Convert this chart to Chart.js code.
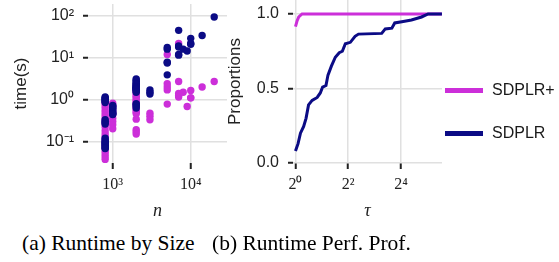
<!DOCTYPE html>
<html>
<head>
<meta charset="utf-8">
<script src="https://cdn.jsdelivr.net/npm/chart.js@4.4.1/dist/chart.umd.min.js"></script>
<style>
  body { margin: 0; width: 559px; height: 262px; background: #fff; position: relative; overflow: hidden; }
  canvas { position: absolute; top: 0; }
  .key { position: absolute; left: 445px; width: 38px; height: 5px; }
  .keytxt { position: absolute; left: 492px; font: 16px "Liberation Sans", Arial, sans-serif; color: #1a1a1a; line-height: 20px; }
  .cap { position: absolute; top: 232px; font: 21.5px "Liberation Serif", "Times New Roman", serif; color: #000; line-height: 22px; white-space: nowrap; }
</style>
</head>
<body>
<canvas id="sizeChart" width="232" height="222" style="left:0px"></canvas>
<canvas id="profChart" width="349" height="222" style="left:210px"></canvas>

<div class="key" style="top:88px;background:#cc2fd9"></div>
<div class="keytxt" style="top:80px">SDPLR+</div>
<div class="key" style="top:131px;background:#0b0b85"></div>
<div class="keytxt" style="top:123px">SDPLR</div>

<div class="cap" style="left:22px">(a) Runtime by Size</div>
<div class="cap" style="left:212px">(b) Runtime Perf. Prof.</div>

<script>
// ---- data ----------------------------------------------------------
// problem sizes n (Gset graphs), runtimes in seconds grouped by size
const sizes = [800, 1000, 2000, 3000, 5000, 7000, 8000, 9000, 10000, 14000, 20000];

const sdplrTimes = [
  [1.15, 1.1, 1.05, 1.0, 0.95, 0.9, 0.85, 0.33, 0.3, 0.28, 0.26, 0.12, 0.11, 0.1, 0.095, 0.09, 0.085, 0.08, 0.075, 0.07, 0.068],
  [0.72, 0.68, 0.64, 0.6, 0.55, 0.5, 0.47, 0.45, 0.44],
  [3.1, 2.9, 2.7, 2.5, 2.4, 2.3, 2.2, 2.1, 2.0, 1.95, 1.9, 1.85, 1.8, 1.75, 1.7, 1.6, 1.5, 0.8, 0.75, 0.7, 0.63],
  [1.7, 1.5, 1.35],
  [17.5, 16, 7.8, 7.5, 3.9],
  [45, 19, 18, 12, 11.5],
  [16],
  [14.5],
  [29, 21, 22],
  [34],
  [94]
];

const sdplrPlusTimes = [
  [0.85, 0.75, 0.65, 0.55, 0.48, 0.42, 0.36, 0.31, 0.26, 0.22, 0.18, 0.15, 0.13, 0.11, 0.095, 0.08, 0.068, 0.058, 0.05, 0.043, 0.037],
  [0.82, 0.72, 0.62, 0.52, 0.44, 0.36, 0.3, 0.25, 0.2],
  [2.0, 1.8, 1.6, 1.45, 1.3, 1.2, 1.1, 1.0, 0.92, 0.85, 0.78, 0.72, 0.66, 0.6, 0.55, 0.5, 0.46, 0.34, 0.19, 0.17, 0.15],
  [0.47, 0.4, 0.33],
  [12, 2.4, 2.0, 1.7, 0.78],
  [22, 2.7, 1.4, 1.25, 1.15],
  [1.5],
  [0.68],
  [1.65, 1.1, 1.1],
  [2.0],
  [2.7]
];

// performance profile (tau, proportion)
const sdplrTau  = [1.0, 1.07, 1.14, 1.24, 1.32, 1.41, 1.55, 1.77, 1.92, 2.04, 2.23, 2.35, 2.57, 2.85, 3.16, 3.43, 3.71, 4.23, 4.79, 5.24, 9.65, 10.6, 12.6, 13.6, 17.0, 21.1, 24.1, 27.5, 32.7, 47];
const sdplrProp = [0.08, 0.13, 0.2, 0.245, 0.3, 0.39, 0.42, 0.44, 0.47, 0.51, 0.52, 0.59, 0.65, 0.71, 0.74, 0.75, 0.80, 0.81, 0.85, 0.865, 0.87, 0.90, 0.905, 0.94, 0.95, 0.96, 0.97, 0.98, 1.0, 1.0];
const plusTau   = [1.0, 1.045, 1.09, 1.19, 47];
const plusProp  = [0.915, 0.955, 0.98, 1.0, 1.0];

const sizeTicks = [1000, 10000];
const timeTicks = [0.1, 1, 10, 100];
const tauTicks  = [1, 4, 16];
const propTicks = [0, 0.5, 1];

// ---- style ----------------------------------------------------------
const PURPLE = '#cc2fd9';
const NAVY = '#0b0b85';
const SANS = '"Liberation Sans", Arial, sans-serif';
const SERIF = '"Liberation Serif", "Times New Roman", serif';
const GRID = '#e0e0e0';

const SUP = {'0': '⁰', '1': '¹', '2': '²', '3': '³', '4': '⁴', '5': '⁵', '-': '⁻'};
const sup = (k) => String(k).split('').map(c => SUP[c]).join('');

function toPoints(groups) {
  const pts = [];
  groups.forEach((g, i) => g.forEach(t => pts.push({x: sizes[i], y: t})));
  return pts;
}

function fixBox(w, h) {
  return (scale) => {
    if (w !== null) scale.width = w;
    if (h !== null) scale.height = h;
    scale.paddingTop = scale.paddingBottom = scale.paddingLeft = scale.paddingRight = 0;
  };
}

const gridOpts = {color: GRID, lineWidth: 1.5, tickColor: '#222', tickLength: 5, tickWidth: 2};

Chart.defaults.animation = false;

// Runtime by size ------------------------------------------------------
new Chart(document.getElementById('sizeChart').getContext('2d'), {
  type: 'scatter',
  data: {
    datasets: [
      {label: 'SDPLR', data: toPoints(sdplrTimes), backgroundColor: NAVY, pointRadius: 3.7, borderWidth: 0},
      {label: 'SDPLR+', data: toPoints(sdplrPlusTimes), backgroundColor: PURPLE, pointRadius: 3.7, borderWidth: 0},
    ],
  },
  options: {
    responsive: false,
    layout: {padding: {top: 0, right: 5, left: 0, bottom: 0}},
    plugins: {legend: {display: false}, tooltip: {enabled: false}},
    scales: {
      x: {
        type: 'logarithmic', min: 482, max: 29170,
        afterBuildTicks: (s) => { s.ticks = sizeTicks.map(v => ({value: v})); },
        afterFit: fixBox(null, 59),
        border: {display: false},
        grid: Object.assign({}, gridOpts, {tickLength: 6}),
        ticks: {
          font: {family: SERIF, size: 16}, color: '#222', padding: 6, maxRotation: 0,
          callback: (v) => '10' + sup(Math.round(Math.log10(v))),
        },
        title: {display: true, text: 'n', font: {family: SERIF, size: 18, style: 'italic'}, color: '#222', padding: {top: 0, bottom: 0}},
      },
      y: {
        type: 'logarithmic', min: 0.0305, max: 192,
        afterBuildTicks: (s) => { s.ticks = timeTicks.map(v => ({value: v})); },
        afterFit: fixBox(88, null),
        border: {display: false},
        grid: gridOpts,
        ticks: {
          font: {family: SANS, size: 16}, color: '#222', padding: 9,
          callback: (v) => '10' + sup(Math.round(Math.log10(v))),
        },
        title: {display: true, text: 'time(s)', font: {family: SANS, size: 17}, color: '#222', padding: {top: 11, bottom: 0}},
      },
    },
  },
});

// Runtime performance profile -----------------------------------------
new Chart(document.getElementById('profChart').getContext('2d'), {
  type: 'line',
  data: {
    datasets: [
      {label: 'SDPLR', data: sdplrTau.map((t, i) => ({x: t, y: sdplrProp[i]})), borderColor: NAVY, borderWidth: 3, pointRadius: 0, fill: false, tension: 0},
      {label: 'SDPLR+', data: plusTau.map((t, i) => ({x: t, y: plusProp[i]})), borderColor: PURPLE, borderWidth: 3, pointRadius: 0, fill: false, tension: 0},
    ],
  },
  options: {
    responsive: false,
    layout: {padding: {top: 0, right: 117, left: 0, bottom: 0}},
    plugins: {legend: {display: false}, tooltip: {enabled: false}},
    scales: {
      x: {
        type: 'logarithmic', min: 0.937, max: 47.1,
        afterBuildTicks: (s) => { s.ticks = tauTicks.map(v => ({value: v})); },
        afterFit: fixBox(null, 59),
        border: {display: false},
        grid: Object.assign({}, gridOpts, {tickLength: 6}),
        ticks: {
          font: {family: SERIF, size: 16}, color: '#222', padding: 6, maxRotation: 0,
          callback: (v) => '2' + sup(Math.round(Math.log2(v))),
        },
        title: {display: true, text: 'τ', font: {family: SERIF, size: 18, style: 'italic'}, color: '#222', padding: {top: 0, bottom: 0}},
      },
      y: {
        type: 'linear', min: 0, max: 1.094,
        afterBuildTicks: (s) => { s.ticks = propTicks.map(v => ({value: v})); },
        afterFit: fixBox(83, null),
        border: {display: false},
        grid: gridOpts,
        ticks: {
          font: {family: SANS, size: 16}, color: '#222', padding: 9,
          callback: (v) => v.toFixed(1),
        },
        title: {display: true, text: 'Proportions', font: {family: SANS, size: 17}, color: '#222', padding: {top: 15, bottom: 0}},
      },
    },
  },
});
</script>
</body>
</html>
